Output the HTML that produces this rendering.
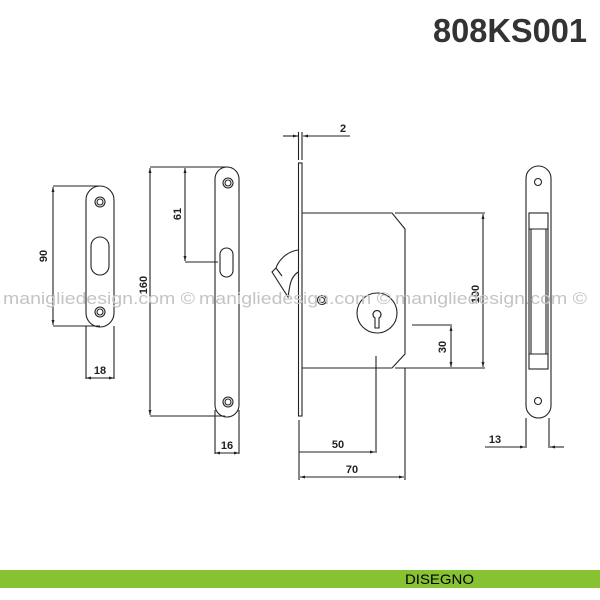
<!DOCTYPE html>
<html><head><style>
html,body{margin:0;padding:0;background:#fff;width:600px;height:600px;overflow:hidden}
svg{display:block}
text{font-family:"Liberation Sans",sans-serif}
</style></head><body>
<svg width="600" height="600" viewBox="0 0 600 600" xmlns="http://www.w3.org/2000/svg">
<defs>
<marker id="a" viewBox="0 0 10 10" refX="10" refY="5" markerWidth="7" markerHeight="5" orient="auto-start-reverse" markerUnits="userSpaceOnUse"><path d="M0,2 L10,5 L0,8 z" fill="#222"/></marker>
</defs>
<text x="587" y="42" text-anchor="end" font-size="33" font-weight="bold" fill="#333" textLength="154" lengthAdjust="spacingAndGlyphs">808KS001</text>

<g fill="none" stroke="#222" stroke-width="1.1">
<rect x="86" y="186" width="28" height="141" rx="14"/>
<circle cx="100" cy="202" r="5"/><circle cx="100" cy="202" r="3"/>
<circle cx="100" cy="312" r="5"/><circle cx="100" cy="312" r="3"/>
<rect x="91" y="237" width="18" height="38" rx="9"/>
<line x1="53" y1="186" x2="100" y2="186"/>
<line x1="53" y1="326" x2="100" y2="326"/>
<line x1="53" y1="187" x2="53" y2="325" marker-start="url(#a)" marker-end="url(#a)"/>
<line x1="86" y1="326" x2="86" y2="379"/><line x1="114" y1="326" x2="114" y2="379"/>
<line x1="86" y1="378" x2="114" y2="378" marker-start="url(#a)" marker-end="url(#a)"/>

<rect x="215" y="167" width="24" height="250" rx="12"/>
<circle cx="228" cy="183" r="5"/><circle cx="228" cy="183" r="3"/>
<circle cx="228" cy="402" r="5"/><circle cx="228" cy="402" r="3"/>
<rect x="220" y="248" width="13" height="29" rx="6.5"/>
<line x1="150" y1="167" x2="228" y2="167"/>
<line x1="150" y1="416" x2="225" y2="416"/>
<line x1="150" y1="168" x2="150" y2="415" marker-start="url(#a)" marker-end="url(#a)"/>
<line x1="185" y1="168" x2="185" y2="261" marker-start="url(#a)" marker-end="url(#a)"/>
<line x1="185" y1="262" x2="218" y2="262"/>
<line x1="215" y1="410" x2="215" y2="454"/><line x1="239" y1="410" x2="239" y2="454"/>
<line x1="215" y1="453" x2="239" y2="453" marker-start="url(#a)" marker-end="url(#a)"/>

<rect x="298.5" y="163" width="3.5" height="253"/>
<line x1="298.5" y1="132" x2="298.5" y2="160"/><line x1="302" y1="132" x2="302" y2="160"/>
<line x1="283" y1="136" x2="298" y2="136" marker-end="url(#a)"/>
<line x1="350" y1="136" x2="303" y2="136" marker-end="url(#a)"/>
<path d="M302,213 L392,213 L405,229 L405,354 L392,368 L302,368"/>
<line x1="395" y1="213" x2="485" y2="213"/>
<line x1="395" y1="368" x2="485" y2="368"/>
<line x1="483" y1="214" x2="483" y2="367" marker-start="url(#a)" marker-end="url(#a)"/>
<line x1="412" y1="325" x2="452" y2="325"/>
<line x1="451" y1="326" x2="451" y2="367" marker-start="url(#a)" marker-end="url(#a)"/>
<circle cx="377" cy="313" r="20"/>
<path d="M375,318 a4,4 0 1 1 4,0 l0,10 l-4,0 z"/>
<circle cx="322" cy="300" r="4.5"/><circle cx="322" cy="300" r="2.5"/>
<path d="M298,250 C285,252 278,262 276,268 L272,272 L288,297 C290,285 290,278 298,272"/>
<path d="M276,268 L282,276"/>
<line x1="376" y1="356" x2="376" y2="453"/>
<line x1="299" y1="452" x2="375" y2="452" marker-end="url(#a)"/>
<line x1="299" y1="420" x2="299" y2="480"/>
<line x1="405" y1="368" x2="405" y2="480"/>
<line x1="300" y1="477" x2="404" y2="477" marker-start="url(#a)" marker-end="url(#a)"/>

<rect x="526" y="166" width="25" height="252" rx="12.5"/>
<circle cx="538" cy="182" r="3.5"/><circle cx="538" cy="401" r="3.5"/>
<rect x="529" y="213" width="19" height="156"/>
<line x1="529" y1="229" x2="548" y2="229"/><line x1="529" y1="354" x2="548" y2="354"/>
<line x1="531" y1="229" x2="531" y2="354"/><line x1="546" y1="229" x2="546" y2="354"/>
<line x1="526" y1="418" x2="526" y2="448"/><line x1="549" y1="418" x2="549" y2="448"/>
<line x1="485" y1="447" x2="525" y2="447" marker-end="url(#a)"/>
<line x1="564" y1="447" x2="550" y2="447" marker-end="url(#a)"/>
</g>

<g font-size="11" font-weight="bold" fill="#222">
<text x="47" y="256" text-anchor="middle" transform="rotate(-90 47 256)">90</text>
<text x="100" y="374" text-anchor="middle">18</text>
<text x="147" y="285" text-anchor="middle" transform="rotate(-90 147 285)">160</text>
<text x="181" y="214" text-anchor="middle" transform="rotate(-90 181 214)">61</text>
<text x="227" y="449" text-anchor="middle">16</text>
<text x="343" y="132" text-anchor="middle">2</text>
<text x="479" y="294" text-anchor="middle" transform="rotate(-90 479 294)">100</text>
<text x="446" y="347" text-anchor="middle" transform="rotate(-90 446 347)">30</text>
<text x="338" y="448" text-anchor="middle">50</text>
<text x="352" y="473" text-anchor="middle">70</text>
<text x="495" y="443" text-anchor="middle">13</text>
</g>

<g font-size="17" fill="#c4c4c4">
<text x="3" y="304" textLength="192" lengthAdjust="spacingAndGlyphs">manigliedesign.com ©</text>
<text x="199" y="304" textLength="192" lengthAdjust="spacingAndGlyphs">manigliedesign.com ©</text>
<text x="395" y="304" textLength="192" lengthAdjust="spacingAndGlyphs">manigliedesign.com ©</text>
</g>

<rect x="0" y="570" width="600" height="18" fill="#86c232"/>
<text x="405" y="584" font-size="14" fill="#000" textLength="69" lengthAdjust="spacingAndGlyphs">DISEGNO</text>
</svg>
</body></html>
